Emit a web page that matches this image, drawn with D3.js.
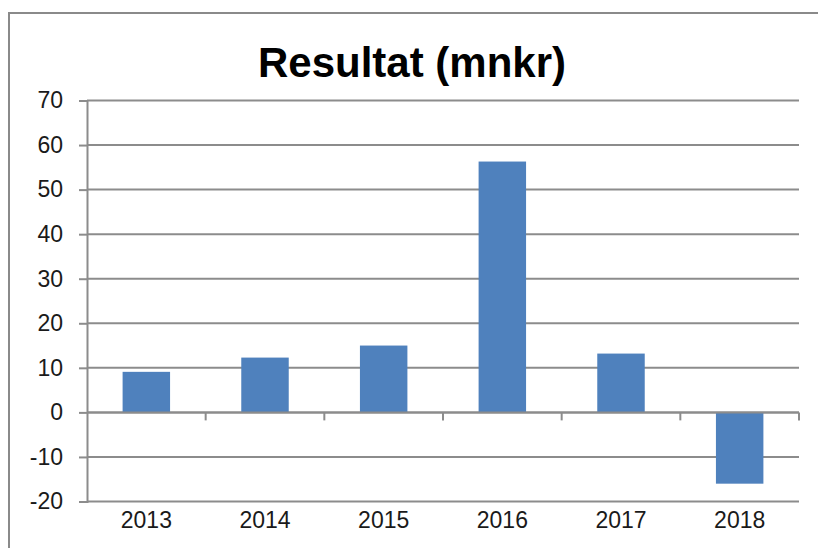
<!DOCTYPE html>
<html>
<head>
<meta charset="utf-8">
<script src="https://cdn.jsdelivr.net/npm/d3@7"></script>
<style>
  body { margin: 0; background: #fff; }
  text { font-family: "Liberation Sans", Arial, sans-serif; }
</style>
</head>
<body>
<div id="chart"></div>
<script>
const years = ["2013", "2014", "2015", "2016", "2017", "2018"];
const result = [9.1, 12.3, 15.0, 56.3, 13.2, -16.0];
const yTicks = [-20, -10, 0, 10, 20, 30, 40, 50, 60, 70];

const W = 818, H = 548;
const margin = {top: 100.5, right: 19, bottom: 46.5, left: 87};
const width = W - margin.left - margin.right;
const height = H - margin.top - margin.bottom;

const svg = d3.select("#chart").append("svg")
    .attr("width", W)
    .attr("height", H);

// chart frame
svg.append("rect")
    .attr("x", 9).attr("y", 13)
    .attr("width", 830).attr("height", 560)
    .attr("fill", "none")
    .attr("stroke", "#8a8a8a")
    .attr("stroke-width", 2);

svg.append("text")
    .attr("x", 412).attr("y", 77)
    .attr("text-anchor", "middle")
    .attr("font-size", 42)
    .attr("font-weight", "bold")
    .attr("fill", "#000")
    .text("Resultat (mnkr)");

const g = svg.append("g")
    .attr("transform", `translate(${margin.left},${margin.top})`);

const x = d3.scaleBand()
    .domain(years)
    .range([0, width])
    .paddingInner(0.6)
    .paddingOuter(0.3);

const y = d3.scaleLinear()
    .domain([-20, 70])
    .range([height, 0]);

// gridlines
g.selectAll("line.grid")
  .data(yTicks)
  .enter().append("line")
    .attr("class", "grid")
    .attr("x1", 0).attr("x2", width)
    .attr("y1", d => y(d)).attr("y2", d => y(d))
    .attr("stroke", "#8c8c8c")
    .attr("stroke-width", 2);

// y axis (plain hyphen for negatives, like the original)
const yAxis = g.append("g")
    .call(d3.axisLeft(y).tickValues(yTicks).tickFormat(d => String(d)).tickSize(8).tickPadding(16));
yAxis.select(".domain").attr("stroke", "#8c8c8c").attr("stroke-width", 2);
yAxis.selectAll(".tick line").attr("stroke", "#8c8c8c").attr("stroke-width", 2);
yAxis.selectAll("text")
    .attr("font-size", 23)
    .attr("fill", "#1a1a1a")
    .style("font-family", "'Liberation Sans', Arial, sans-serif");

// bars
g.selectAll("rect.bar")
  .data(years)
  .enter().append("rect")
    .attr("class", "bar")
    .attr("x", d => x(d))
    .attr("width", x.bandwidth())
    .attr("y", (d, i) => y(Math.max(0, result[i])))
    .attr("height", (d, i) => Math.abs(y(result[i]) - y(0)))
    .attr("fill", "#4f81bd");

// zero axis with category boundary ticks
const gap = (x.step() - x.bandwidth()) / 2;
const bounds = years.slice(1).map(d => x(d) - gap).concat([width]);
g.append("line")
    .attr("x1", 0).attr("x2", width)
    .attr("y1", y(0)).attr("y2", y(0))
    .attr("stroke", "#8c8c8c")
    .attr("stroke-width", 2);
g.selectAll("line.xtick")
  .data(bounds)
  .enter().append("line")
    .attr("class", "xtick")
    .attr("x1", d => d).attr("x2", d => d)
    .attr("y1", y(0)).attr("y2", y(0) + 8)
    .attr("stroke", "#8c8c8c")
    .attr("stroke-width", 2);

// category labels
const xAxis = g.append("g")
    .attr("transform", `translate(0,${height})`)
    .call(d3.axisBottom(x).tickSize(0).tickPadding(10));
xAxis.select(".domain").remove();
xAxis.selectAll("text")
    .attr("font-size", 23)
    .attr("fill", "#1a1a1a")
    .style("font-family", "'Liberation Sans', Arial, sans-serif");
</script>
</body>
</html>
